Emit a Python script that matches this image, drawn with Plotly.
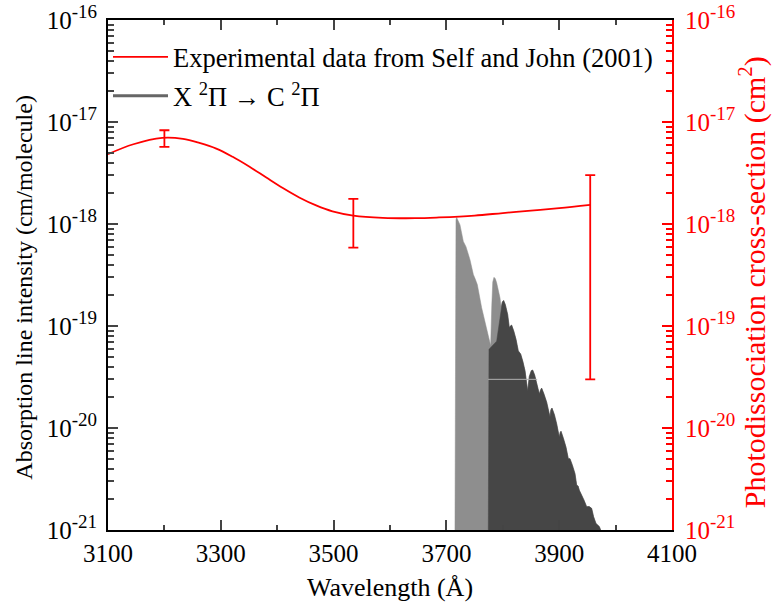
import plotly.graph_objects as go

# ---- Data ----
# Experimental smooth curve (Self and John 2001), cm^2
curve_wl = [3100, 3145, 3196, 3233, 3262, 3292, 3321, 3351, 3380, 3410, 3439,
            3469, 3498, 3535, 3587, 3645, 3687, 3750, 3800, 3850, 3900, 3955]
curve_val = [4.84e-18, 6.05e-18, 6.98e-18, 6.83e-18, 6.24e-18, 5.49e-18, 4.56e-18,
             3.64e-18, 2.87e-18, 2.25e-18, 1.82e-18, 1.52e-18, 1.33e-18, 1.21e-18,
             1.15e-18, 1.14e-18, 1.16e-18, 1.21e-18, 1.28e-18, 1.35e-18, 1.43e-18, 1.54e-18]

# Experimental points with error bars
err_wl = [3200, 3535, 3955]
err_val = [7.0e-18, 1.2e-18, 1.54e-18]
err_hi = [8.3e-18, 1.76e-18, 3.02e-18]
err_lo = [5.7e-18, 5.86e-19, 3.0e-20]

# X 2Pi -> C 2Pi absorption spectrum envelope (cm/molecule)
spec_wl = [3715.2, 3716.0, 3717.0, 3718.2, 3720.5, 3724.1, 3730.0, 3733.0, 3734.7,
           3741.8, 3747.8, 3751.0, 3754.8, 3762.5, 3771.4, 3778.5, 3780.5, 3782.2,
           3784.4, 3786.8, 3789.1, 3795.0, 3796.8, 3799.2, 3801.5, 3804.5, 3808.6,
           3811.6, 3813.5, 3815.7, 3819.5, 3823.4, 3827.5, 3829.5, 3831.7, 3835.5,
           3839.4, 3844.1, 3847.0, 3850.5, 3853.0, 3856.5, 3860.0, 3864.8, 3866.8,
           3868.9, 3873.0, 3877.8, 3883.7, 3885.2, 3887.2, 3891.5, 3895.5, 3900.2,
           3901.6, 3903.2, 3907.5, 3912.0, 3916.2, 3919.1, 3923.5, 3928.0, 3931.0,
           3933.5, 3935.7, 3940.0, 3944.0, 3948.7, 3953.0, 3957.5, 3961.0, 3965.2,
           3968.0, 3971.1, 3973.5]
spec_int = [1e-21, 8.0e-19, 1.10e-18, 1.16e-18, 1.10e-18, 9.8e-19, 6.75e-19, 6.2e-19,
            6.0e-19, 4.47e-19, 3.19e-19, 2.9e-19, 2.55e-19, 1.51e-19, 9.6e-20, 6.4e-20,
            1.6e-19, 2.7e-19, 3.0e-19, 2.9e-19, 2.65e-19, 1.89e-19, 1.57e-19, 1.72e-19,
            1.78e-19, 1.62e-19, 1.30e-19, 9.6e-20, 1.0e-19, 1.02e-19, 8.9e-20, 7.4e-20,
            5.7e-20, 5.5e-20, 5.3e-20, 4.5e-20, 3.64e-20, 2.3e-20, 3.2e-20, 3.65e-20,
            3.7e-20, 3.3e-20, 2.7e-20, 2.15e-20, 2.35e-20, 2.46e-20, 2.15e-20, 1.79e-20,
            1.28e-20, 1.5e-20, 1.57e-20, 1.35e-20, 1.10e-20, 8.1e-21, 9.0e-21, 9.3e-21,
            7.9e-21, 6.5e-21, 5.0e-21, 5.0e-21, 4.3e-21, 3.57e-21, 2.75e-21, 2.7e-21,
            2.45e-21, 2.2e-21, 1.96e-21, 1.69e-21, 1.7e-21, 1.63e-21, 1.35e-21, 1.16e-21,
            1.12e-21, 1.08e-21, 1e-21]

# darker (main) band part: its own head, then follows the envelope
dark_head_wl = [3774.3, 3775.5, 3789.1, 3796.8]
dark_head_int = [1e-21, 5.9e-20, 7.1e-20, 1.40e-19]
dark_join_wl = 3799.2

# faint horizontal artefact line inside the spectrum
artef_wl = [3774, 3861]
artef_int = [3.0e-20, 3.0e-20]

x_ticks = [3100, 3300, 3500, 3700, 3900, 4100]
y_exps = [-21, -20, -19, -18, -17, -16]

FONT = "Liberation Serif, Times New Roman, serif"
RED = "#ff0000"

y_tickvals = [10.0 ** e for e in y_exps]
y_ticktext = ["10<sup><span style='font-size:19px'>%d</span></sup>" % e for e in y_exps]
y_minor = [m * 10.0 ** e for e in y_exps[:-1] for m in range(2, 10)]

fig = go.Figure()

# spectrum (light outer envelope)
fig.add_trace(go.Scatter(x=spec_wl, y=spec_int, mode="lines", fill="toself",
                         fillcolor="#8e8e8e", line=dict(color="#8e8e8e", width=0.5),
                         showlegend=False, hoverinfo="skip"))
# spectrum (dark main part)
j = spec_wl.index(dark_join_wl)
fig.add_trace(go.Scatter(x=dark_head_wl + spec_wl[j:], y=dark_head_int + spec_int[j:],
                         mode="lines", fill="toself", fillcolor="#464646",
                         line=dict(color="#464646", width=0.5),
                         showlegend=False, hoverinfo="skip"))
fig.add_trace(go.Scatter(x=artef_wl, y=artef_int, mode="lines",
                         line=dict(color="#b0b0b0", width=1),
                         showlegend=False, hoverinfo="skip"))
# legend entry for spectrum
fig.add_trace(go.Scatter(x=[None], y=[None], mode="lines",
                         line=dict(color="#666666", width=3),
                         name="X <sup>2</sup>Π → C <sup>2</sup>Π", legend="legend2"))

# experimental curve on right axis
fig.add_trace(go.Scatter(x=curve_wl, y=curve_val, mode="lines", line_shape="spline",
                         line=dict(color=RED, width=1.8), yaxis="y2",
                         name="Experimental data from Self and John (2001)",
                         legend="legend"))
fig.add_trace(go.Scatter(
    x=err_wl, y=err_val, mode="markers", marker=dict(size=1, color=RED, opacity=0),
    yaxis="y2", showlegend=False,
    error_y=dict(type="data", symmetric=False,
                 array=[h - v for h, v in zip(err_hi, err_val)],
                 arrayminus=[v - l for v, l in zip(err_val, err_lo)],
                 color=RED, thickness=1.8, width=5)))

axis_common = dict(showgrid=False, zeroline=False, ticks="inside", ticklen=10,
                   tickwidth=2, linewidth=2, showline=True, automargin=False,
                   ticklabeloverflow="allow")

fig.update_layout(
    width=772, height=610,
    margin=dict(l=108, r=100, t=20, b=80),
    paper_bgcolor="white", plot_bgcolor="white",
    font=dict(family=FONT, size=25, color="black"),
    xaxis=dict(range=[3100, 4100], tickvals=x_ticks, linecolor="black",
               mirror="ticks", tickfont=dict(size=25),
               minor=dict(dtick=100, tick0=3100, ticks="inside", ticklen=5, tickwidth=2),
               title=dict(text="Wavelength (Å)", font=dict(size=26), standoff=12),
               **axis_common),
    yaxis=dict(type="log", range=[-21, -16], tickvals=y_tickvals, ticktext=y_ticktext,
               linecolor="black", tickfont=dict(size=25), ticklabelstandoff=4,
               minor=dict(tickvals=y_minor, ticks="inside", ticklen=6, tickwidth=2),
               **axis_common),
    yaxis2=dict(type="log", range=[-21, -16], tickvals=y_tickvals, ticktext=y_ticktext,
                overlaying="y", side="right", linecolor=RED, tickcolor=RED,
                tickfont=dict(size=25, color=RED), ticklabelstandoff=6,
                minor=dict(tickvals=y_minor, ticks="inside", ticklen=6, tickwidth=2,
                           tickcolor=RED),
                **axis_common),
    annotations=[
        dict(text="Absorption line intensity (cm/molecule)", textangle=-90,
             xref="paper", yref="paper", x=-0.149, y=0.477, xanchor="center",
             yanchor="middle", showarrow=False, font=dict(size=24, color="black")),
        dict(text="Photodissociation cross-section (cm<sup>2</sup>)", textangle=-90,
             xref="paper", yref="paper", x=1.143, y=0.485, xanchor="center",
             yanchor="middle", showarrow=False, font=dict(size=30, color=RED)),
    ],
    legend=dict(x=0.0, y=0.927, xanchor="left", yanchor="middle",
                bgcolor="rgba(0,0,0,0)", font=dict(size=26.5), itemwidth=55),
    legend2=dict(x=0.0, y=0.851, xanchor="left", yanchor="middle",
                 bgcolor="rgba(0,0,0,0)", font=dict(size=26.5), itemwidth=55),
)

fig.write_html("out.html")
